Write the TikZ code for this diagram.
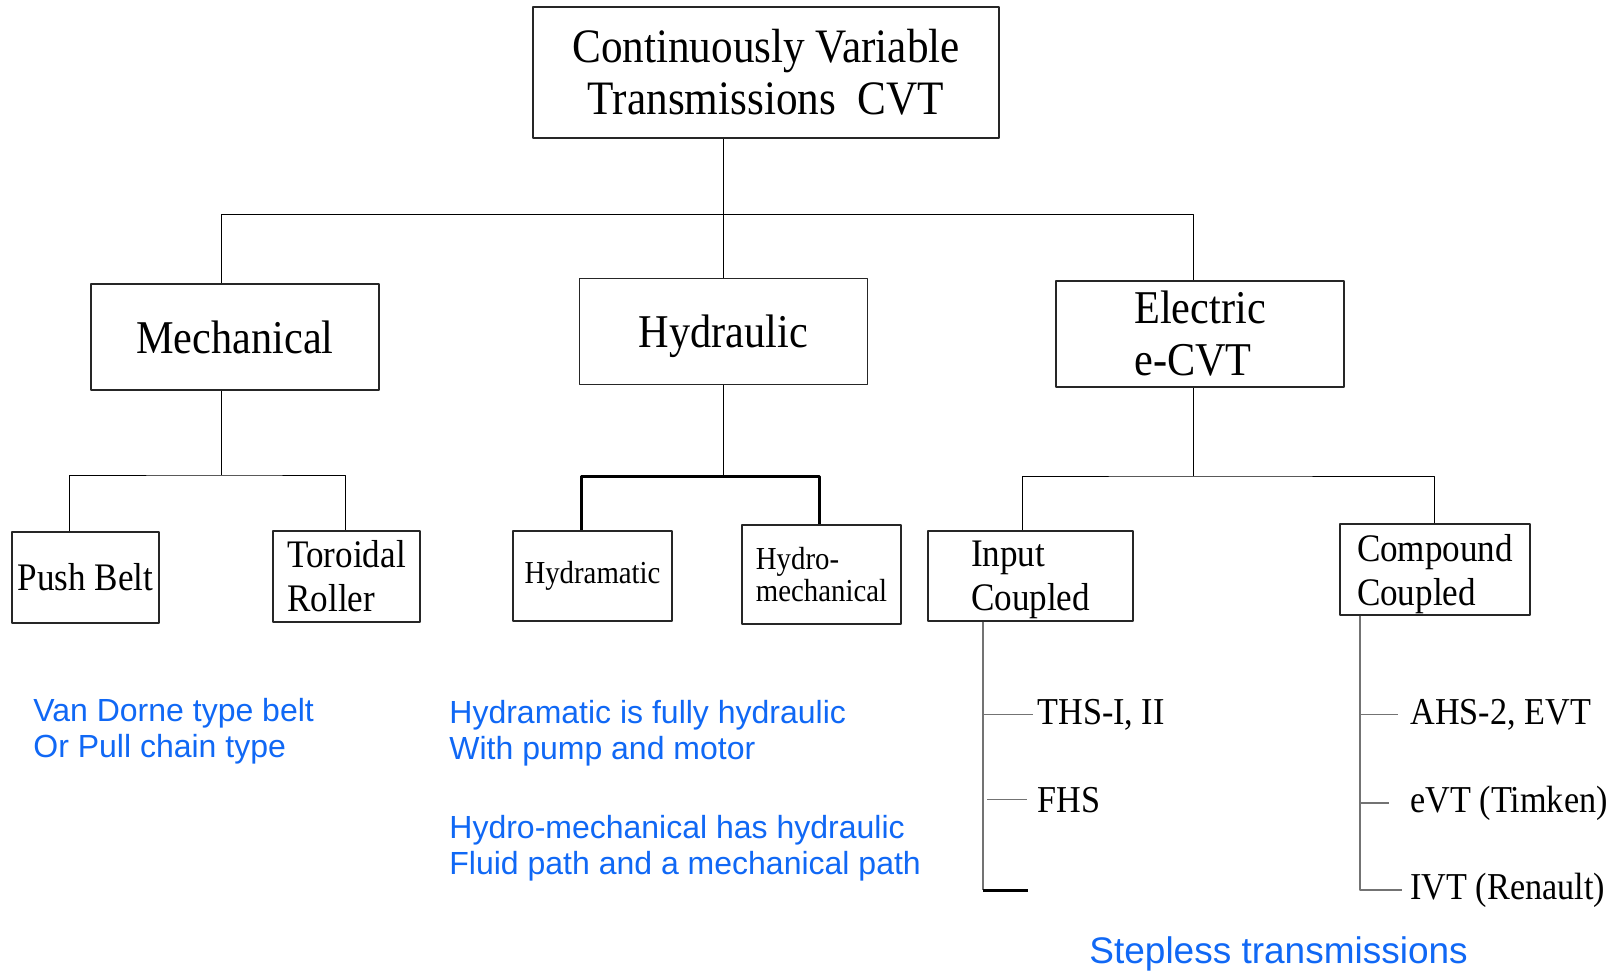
\documentclass[tikz,border=0pt]{standalone}
\usepackage{fontspec}
\setmainfont{Liberation Serif}[FakeStretch=0.9]
\newfontfamily\notefont{Liberation Sans}
\definecolor{noteblue}{RGB}{16,104,245}
\newcommand\nodepth[1]{\raisebox{0pt}[\height][0pt]{#1}}
\begin{document}
\begin{tikzpicture}[x=0.5pt,y=-0.5pt,line join=round,
    lnk/.style={line width=0.5pt},
    thk/.style={line width=1.5pt},
    lst/.style={line width=0.7pt,draw=black!55},
    box/.style={draw=black!85,line width=0.65pt,inner sep=0pt,align=left},
    topbox/.style={box,align=center,minimum width=233pt,minimum height=65.5pt,font=\fontsize{24}{26}\selectfont},
    mainbox/.style={box,minimum width=144pt,minimum height=53pt,font=\fontsize{23.5}{26}\selectfont},
    subbox/.style={box,font=\fontsize{19.5}{22}\selectfont},
    smallbox/.style={box,font=\fontsize{16}{16}\selectfont},
    leaf/.style={anchor=base west,inner sep=0pt,font=\fontsize{19}{22}\selectfont},
    note/.style={anchor=base west,inner sep=0pt,align=left,text=noteblue,font=\notefont\fontsize{16}{18}\selectfont}]
\useasboundingbox (0,0) rectangle (1620,972);
% boxes
\node[topbox] (cvt) at (766,72.5) {Continuously Variable\\Transmissions\ \ CVT};
\node[mainbox] (mech) at (235,337) {Mechanical};
\node[mainbox] (hydr) at (723.5,331.5) {\nodepth{Hydraulic}};
\node[mainbox] (elec) at (1200,334) {Electric\\e-CVT};
\node[subbox,minimum width=73.5pt,minimum height=45.5pt] (push) at (85.5,577.5) {Push Belt};
\node[subbox,minimum width=73.5pt,minimum height=45.5pt] (toro) at (346.5,576.5) {Toroidal\\Roller};
\node[smallbox,minimum width=79.5pt,minimum height=45pt] (hydm) at (592.5,576) {Hydramatic};
\node[smallbox,minimum width=79.5pt,minimum height=49.5pt] (hmech) at (821.5,574.5) {Hydro-\\mechanical};
\node[subbox,minimum width=102.5pt,minimum height=45pt] (inpc) at (1030.5,576) {Input\\\nodepth{Coupled}};
\node[subbox,minimum width=95pt,minimum height=45.5pt] (cmpc) at (1435,569.5) {Compound\\\nodepth{Coupled}};
% tree lines
\coordinate (busL) at (221,215);
\coordinate (busR) at (1193,215);
\draw[lnk] (cvt.south -| hydr.north) -- (hydr.north);
\draw[lnk] (mech.north -| busL) |- (busR) -- (elec.north -| busR);
\coordinate (mfork) at (221,475);
\draw[lnk] (mech.south -| mfork) -- (mfork);
\draw[lnk] ([xshift=-8.25pt]push.north) |- (mfork) -| ([xshift=-0.75pt]toro.north);
\coordinate (hfork) at (723.5,476);
\draw[lnk] (hydr.south) -- (hfork);
\draw[thk] ([xshift=-5.75pt]hydm.north) |- (hfork) -| ([xshift=-1.25pt]hmech.north);
\coordinate (efork) at (1193,476);
\draw[lnk] (elec.south -| efork) -- (efork);
\draw[lnk] ([xshift=-4.25pt]inpc.north) |- (efork) -| ([xshift=-0.5pt]cmpc.north);
% input coupled list
\node[leaf] (ths) at (1037,724) {THS-I, II};
\node[leaf] (fhs) at (1037,812) {FHS};
\coordinate (inV) at ([xshift=-23.75pt]inpc.south);
\coordinate (inEnd) at (1028,890);
\draw[lst] (inV) -- (inV |- inEnd);
\draw[thk] (inV |- inEnd) -- (inEnd);
\draw[lst] (inV |- ths.west) -- ([xshift=-2pt]ths.west);
\draw[lst] ([xshift=2pt]inV |- fhs.west) -- ([xshift=-5pt]fhs.west);
% compound coupled list
\node[leaf] (ahs) at (1410,724) {AHS-2, EVT};
\node[leaf] (evt) at (1410,812) {eVT (Timken)};
\node[leaf] (ivt) at (1410,899) {IVT (Renault)};
\coordinate (cpV) at ([xshift=-37.5pt]cmpc.south);
\draw[lst] (cpV) |- ([xshift=-4pt]ivt.west);
\draw[lst] (cpV |- ahs.west) -- ([xshift=-6pt]ahs.west);
\draw[lst] (cpV |- evt.west) -- ([xshift=-10.5pt]evt.west);
% notes (base = last line)
\node[note] (vdnote) at (33,757) {Van Dorne type belt\\Or Pull chain type};
\node[note] (hmnote) at (449,759) {Hydramatic is fully hydraulic\\With pump and motor};
\node[note] (hpnote) at (449,874) {Hydro-mechanical has hydraulic\\Fluid path and a mechanical path};
\node[note,font=\notefont\fontsize{18.5}{20}\selectfont] (stnote) at (1089,963) {Stepless transmissions};
\end{tikzpicture}
\end{document}
